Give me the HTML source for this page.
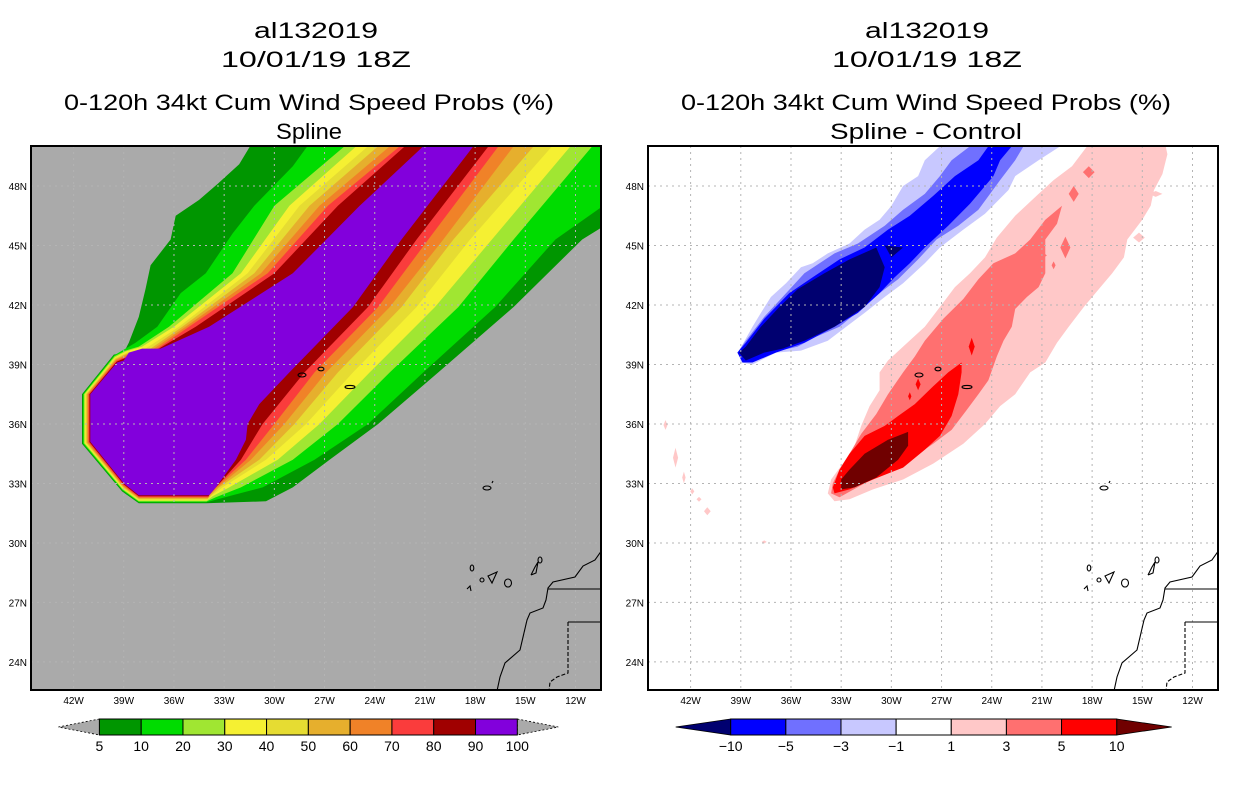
<!DOCTYPE html>
<html><head><meta charset="utf-8">
<style>
html,body{margin:0;padding:0;background:#fff;}
svg{display:block;font-family:"Liberation Sans",sans-serif;}
</style></head>
<body>
<svg id="chart" width="1236" height="800" viewBox="0 0 1236 800" xmlns="http://www.w3.org/2000/svg">
<defs>
<clipPath id="clipL"><rect x="31" y="146" width="570" height="544"/></clipPath>
<clipPath id="clipR"><rect x="648" y="146" width="570" height="544"/></clipPath>
</defs>
<g font-size="22" text-anchor="middle" fill="#000">
<text x="316" y="38" textLength="124" lengthAdjust="spacingAndGlyphs">al132019</text>
<text x="316" y="67" textLength="190" lengthAdjust="spacingAndGlyphs">10/01/19 18Z</text>
<text x="309" y="110" textLength="490" lengthAdjust="spacingAndGlyphs">0-120h 34kt Cum Wind Speed Probs (%)</text>
<text x="309" y="139" textLength="66" lengthAdjust="spacingAndGlyphs">Spline</text>
</g>
<g font-size="22" text-anchor="middle" fill="#000">
<text x="927" y="38" textLength="124" lengthAdjust="spacingAndGlyphs">al132019</text>
<text x="927" y="67" textLength="190" lengthAdjust="spacingAndGlyphs">10/01/19 18Z</text>
<text x="926" y="110" textLength="490" lengthAdjust="spacingAndGlyphs">0-120h 34kt Cum Wind Speed Probs (%)</text>
<text x="926" y="139" textLength="192" lengthAdjust="spacingAndGlyphs">Spline - Control</text>
</g>
<rect x="31" y="146" width="570" height="544" fill="#aaaaaa"/>
<rect x="648" y="146" width="570" height="544" fill="#ffffff"/>
<g id="leftFill" clip-path="url(#clipL)"></g>
<g id="rightFill" clip-path="url(#clipR)"></g>
<g id="overlay"></g>
</svg>
<script>
const NS="http://www.w3.org/2000/svg";
// ---- data ----
const probLevels=[5,10,20,30,40,50,60,70,80,90,100];
const probColors=["#009600","#00dc00","#a0e632","#f5f032","#e6dc32","#e6af2d","#f08228","#fa3c3c","#a00000","#8200dc"];
const diffLevels=[-10,-5,-3,-1,1,3,5,10];
const diffColors=["#000070","#0000ff","#7070ff","#c8c8ff","#ffffff","#ffc8c8","#ff7070","#ff0000","#700000"];
const lonTicks=[42,39,36,33,30,27,24,21,18,15,12];
const latTicks=[48,45,42,39,36,33,30,27,24];
// octagon (outer ring / inner purple)
const octOuter=[[39.6,39.5],[41.5,37.5],[41.5,35.0],[39.1,32.6],[38.1,32.0],[34.1,32.0]];
const octInner=[[39.4,39.1],[41.0,37.5],[41.0,35.1],[39.0,33.0],[38.1,32.4],[33.9,32.4]];
// NW edges (lonW,latN) top -> junction, per level
const nw0=[[31.1,50.5],[32.1,49.1],[33.4,48.1],[34.5,47.3],[35.9,46.5],[36.2,45.3],[37.4,44.0],[37.7,42.8],[38.1,41.4],[38.7,40.1],[39.0,39.6]];
const nw1=[[27.6,50.5],[28.9,49.0],[31.2,47.0],[32.5,45.6],[34.1,43.6],[35.6,42.6],[37.0,40.9],[38.3,40.1],[38.9,39.8]];
const nw2=[[25.8,50.5],[25.8,50.0],[30.0,47.0],[32.5,43.6],[36.3,40.9],[38.1,39.9],[38.9,39.7]];
const nw3=[[25.1,50.5],[25.1,50.0],[29.1,47.0],[32.0,43.6],[36.0,40.9],[37.9,39.9],[38.9,39.65]];
const nw4=[[24.4,50.5],[24.4,50.0],[28.5,47.0],[31.6,43.6],[35.7,40.9],[37.7,39.8],[38.8,39.6]];
const nw5=[[23.8,50.5],[23.8,50.0],[27.9,47.0],[31.2,43.6],[35.5,40.9],[37.4,39.8],[38.8,39.55]];
const nw6=[[23.1,50.5],[23.1,50.0],[27.3,47.0],[30.8,43.6],[35.3,40.9],[37.2,39.8],[38.8,39.5]];
const nw7=[[22.5,50.5],[22.5,50.0],[26.8,47.0],[30.4,43.6],[35.1,40.9],[37.0,39.8],[38.7,39.45]];
const nw8=[[22.2,50.5],[22.2,50.0],[26.2,47.0],[30.0,43.6],[34.7,40.9],[36.9,39.8],[38.7,39.4]];
const nw9=[[21.1,50.5],[21.1,50.0],[24.9,47.0],[28.9,43.6],[33.9,40.9],[36.8,39.8],[37.9,39.8],[38.7,39.6],[39.0,39.2]];
// SE edges bottom -> top
const se0=[[30.5,32.1],[28.9,32.8],[26.7,34.2],[23.8,36.0],[20.2,38.6],[15.7,41.9],[11.6,45.3],[9.5,46.4],[9.5,50.5]];
const se1=[[32.5,32.4],[30.7,32.8],[27.6,34.2],[24.4,36.0],[21.1,38.6],[16.8,41.9],[13.2,45.3],[9.5,47.5],[9.5,50.5]];
const se2=[[33.5,32.3],[32.0,32.8],[28.9,34.2],[26.2,36.0],[23.1,38.6],[19.0,41.9],[15.7,45.3],[12.5,48.5],[10.5,50.5]];
const se3=[[33.7,32.35],[32.7,32.8],[29.8,34.2],[27.3,36.0],[24.3,38.6],[20.4,41.9],[17.0,45.3],[12.3,50.0],[12.3,50.5]];
const se4=[[33.8,32.35],[33.1,32.8],[30.5,34.2],[28.1,36.0],[25.3,38.6],[21.5,41.9],[18.3,45.3],[13.4,50.0],[13.4,50.5]];
const se5=[[33.8,32.4],[33.3,32.8],[30.9,34.2],[28.8,36.0],[26.2,38.6],[22.4,41.9],[19.3,45.3],[14.5,50.0],[14.5,50.5]];
const se6=[[33.9,32.4],[33.4,32.8],[31.4,34.2],[29.4,36.0],[26.9,38.6],[23.1,41.9],[19.9,45.3],[15.7,50.0],[15.7,50.5]];
const se7=[[33.9,32.4],[33.5,32.8],[31.7,34.2],[30.0,36.0],[27.6,38.6],[23.8,41.9],[20.8,45.3],[16.6,50.0],[16.6,50.5]];
const se8=[[33.9,32.4],[33.5,32.8],[32.0,34.2],[30.7,36.0],[28.2,38.6],[24.4,41.9],[21.5,45.3],[17.2,50.0],[17.2,50.5]];
const se9=[[33.9,32.4],[33.5,32.8],[32.3,34.2],[31.7,35.2],[31.6,36.0],[30.9,37.0],[29.1,38.6],[25.3,41.9],[22.4,45.3],[18.1,50.0],[18.1,50.5]];
const nwEdges=[nw0,nw1,nw2,nw3,nw4,nw5,nw6,nw7,nw8,nw9];
const seEdges=[se0,se1,se2,se3,se4,se5,se6,se7,se8,se9];
// right panel difference regions
const blueLight=[[27.1,50.5],[27.1,50.0],[28.0,49.3],[28.4,48.5],[29.3,48.0],[30.0,47.0],[30.7,46.3],[31.6,45.8],[32.5,45.1],[33.8,44.6],[34.7,44.1],[35.4,43.9],[36.3,43.1],[37.2,42.4],[37.8,41.6],[38.3,40.9],[39.1,39.7],[39.0,39.1],[38.3,39.0],[36.9,39.6],[35.4,39.7],[33.8,40.2],[32.7,40.9],[31.6,41.6],[30.4,42.4],[29.3,43.1],[28.0,44.1],[27.1,44.9],[25.7,45.8],[24.4,46.6],[23.0,47.8],[22.6,48.5],[21.2,49.3],[19.9,50.0],[19.9,50.5]];
const blueMid=[[25.3,50.5],[25.3,50.0],[26.4,49.3],[27.1,48.5],[28.0,47.6],[29.3,46.8],[30.4,46.0],[32.0,45.1],[33.4,44.6],[35.2,43.6],[36.5,42.4],[37.6,41.4],[38.7,40.2],[39.2,39.6],[38.7,39.1],[37.2,39.6],[35.6,39.9],[34.5,40.4],[33.1,40.9],[31.8,41.8],[30.7,42.6],[29.6,43.3],[28.4,44.3],[27.3,45.3],[26.0,46.0],[24.8,46.8],[23.5,48.3],[22.6,49.3],[22.1,50.0],[22.1,50.5]];
const blueStrong=[[24.2,50.5],[24.2,50.0],[24.8,49.3],[26.2,48.5],[27.5,47.5],[28.9,46.5],[30.2,45.8],[31.6,44.9],[33.1,44.3],[34.7,43.4],[36.1,42.6],[37.6,41.3],[38.7,40.1],[39.2,39.6],[38.9,39.1],[38.3,39.1],[36.9,39.6],[35.2,40.1],[33.4,40.9],[32.0,41.6],[30.7,42.6],[29.8,43.4],[28.9,44.1],[28.0,44.9],[26.6,46.0],[25.3,47.1],[23.9,48.5],[23.5,49.3],[22.8,50.0],[22.8,50.5]];
const blueDark=[[30.9,44.9],[32.5,44.3],[34.0,43.6],[35.6,42.8],[36.7,41.9],[37.8,40.9],[38.7,39.9],[39.1,39.6],[38.7,39.2],[37.6,39.6],[36.5,39.8],[35.2,40.2],[33.4,40.9],[31.6,41.9],[30.7,42.9],[30.4,43.9]];
const blueDark2=[[30.4,45.0],[29.3,44.9],[30.0,44.4]];
const redLight=[[18.3,50.5],[18.3,50.0],[19.2,49.0],[20.3,48.3],[21.2,47.6],[22.6,46.5],[23.7,45.4],[24.4,44.4],[25.3,43.6],[26.2,42.9],[27.1,41.9],[28.0,40.9],[29.3,39.9],[30.2,39.2],[30.7,38.6],[30.7,37.7],[31.3,36.9],[31.8,35.9],[32.2,34.9],[32.9,34.0],[33.6,33.2],[33.8,32.5],[33.4,32.1],[32.5,32.2],[31.1,32.7],[29.3,33.2],[27.5,34.0],[25.7,35.0],[24.4,36.0],[23.5,36.9],[22.6,37.5],[21.7,38.6],[20.8,39.1],[20.1,40.1],[19.4,40.9],[18.5,41.9],[17.6,42.8],[16.8,43.6],[16.1,44.4],[15.9,45.3],[15.0,46.3],[14.5,47.0],[14.3,47.8],[13.8,48.6],[13.5,49.6],[13.6,50.0],[13.6,50.5]];
const redMid=[[19.8,47.0],[20.8,46.3],[21.7,45.3],[22.6,44.6],[23.9,44.1],[24.8,43.3],[25.7,42.3],[26.9,41.3],[28.0,40.2],[28.6,39.4],[29.3,38.6],[30.2,37.5],[30.9,36.5],[31.8,35.5],[32.5,34.5],[33.1,33.7],[33.5,33.0],[33.6,32.5],[33.1,32.3],[31.6,33.0],[30.4,33.5],[28.9,34.2],[27.5,35.0],[26.4,35.7],[25.5,36.7],[24.8,37.5],[24.2,38.2],[23.7,39.4],[23.3,40.2],[22.8,40.9],[22.6,41.8],[21.9,42.4],[21.2,42.9],[20.8,43.6],[20.8,45.3],[20.1,46.1]];
const redStrong=[[25.8,39.1],[26.6,38.6],[27.5,37.9],[28.6,37.0],[29.6,36.4],[30.4,35.9],[31.6,35.4],[32.5,34.5],[33.1,33.7],[33.5,32.8],[33.4,32.5],[32.5,32.7],[31.1,33.2],[29.3,33.8],[28.0,34.7],[27.1,35.4],[26.4,36.4],[26.0,37.5],[25.8,38.6]];
const redDark=[[29.0,35.6],[30.2,35.2],[31.6,34.5],[32.5,33.7],[33.0,33.2],[33.0,32.7],[32.2,32.8],[30.9,33.3],[29.6,34.2],[29.0,34.9]];
// small isolated patches: [lonW, latN, halfWidthDeg, halfHeightDeg]
const pinkSpots=[[43.5,35.95,0.12,0.25],[42.9,34.3,0.15,0.5],[42.4,33.3,0.1,0.3],[41.9,32.6,0.12,0.15],[41.5,32.2,0.15,0.12],[41.0,31.6,0.2,0.2],[37.6,30.05,0.15,0.08],[15.2,45.4,0.35,0.25],[14.2,47.6,0.4,0.15]];
const midSpots=[[19.1,47.6,0.3,0.4],[18.2,48.7,0.35,0.3],[19.6,44.9,0.3,0.55],[20.3,44.0,0.12,0.2],[20.9,44.5,0.2,0.12],[23.4,40.8,0.35,0.2]];
const redSpots=[[25.2,39.9,0.18,0.45],[28.4,38.0,0.15,0.3],[28.9,37.4,0.1,0.2]];

// ---- axis functions ----
function px(lonW,ox){return ox+73.6+(42-lonW)*16.73;}
function py(lat){return 186+(48-lat)*19.83;}
function ptsStr(arr,ox){return arr.map(p=>px(p[0],ox).toFixed(1)+","+py(p[1]).toFixed(1)).join(" ");}
function mk(tag,attrs,parent){const e=document.createElementNS(NS,tag);for(const k in attrs)e.setAttribute(k,attrs[k]);parent.appendChild(e);return e;}

const L=document.getElementById("leftFill");
for(let i=0;i<10;i++){
  const t=i/9;
  const oct=octOuter.map((p,j)=>[p[0]+(octInner[j][0]-p[0])*t,p[1]+(octInner[j][1]-p[1])*t]);
  const poly=nwEdges[i].concat(oct).concat(seEdges[i]);
  const e=mk("polygon",{points:ptsStr(poly,0),fill:probColors[i]},L);
  
  
}
const R=document.getElementById("rightFill");
const rightRegions=[[blueLight,3,'diff-band-minus1'],[blueMid,2,'diff-band-minus3'],[blueStrong,1,'diff-band-minus5'],[blueDark,0,'diff-band-minus10'],[blueDark2,0,'diff-band-minus10-b'],[redLight,5,'diff-band-plus1'],[redMid,6,'diff-band-plus3'],[redStrong,7,'diff-band-plus5'],[redDark,8,'diff-band-plus10']];
rightRegions.forEach(r=>{
  const e=mk("polygon",{points:ptsStr(r[0],617),fill:diffColors[r[1]]},R);
  
  
});
function spots(list,color,name){list.forEach(s=>{
  const poly=[[s[0],s[1]+s[3]],[s[0]-s[2],s[1]],[s[0],s[1]-s[3]],[s[0]+s[2],s[1]]];
  const e=mk("polygon",{points:ptsStr(poly,617),fill:color},R);
  
  
});}
spots(pinkSpots,diffColors[5],'diff-spot-plus1');
spots(midSpots,diffColors[6],'diff-spot-plus3');
spots(redSpots,diffColors[7],'diff-spot-plus5');

// ---- grid, coast, frames, labels ----
const O=document.getElementById("overlay");
[0,617].forEach((ox,pi)=>{
  const g=mk("g",{"clip-path":pi?"url(#clipR)":"url(#clipL)"},O);
  
  
  lonTicks.forEach(l=>mk("line",{x1:px(l,ox),x2:px(l,ox),y1:146,y2:690,stroke:"#b4b4b4","stroke-width":1,"stroke-dasharray":"2,4"},g));
  latTicks.forEach(l=>mk("line",{x1:ox+31,x2:ox+601,y1:py(l),y2:py(l),stroke:"#b4b4b4","stroke-width":1,"stroke-dasharray":"2,4"},g));
  const c=mk("g",{fill:"none",stroke:"#000","stroke-width":1.1},g);
  
  
  const sh=(a)=>a.map(p=>(p[0]+ox)+","+p[1]).join(" ");
  mk("polyline",{points:sh([[602,550],[595,560],[583,566],[575,577],[553,582],[548,588],[546,600],[543,608],[530,613],[527,620],[520,650],[505,663],[500,677],[497,691]])},c);
  mk("polyline",{points:sh([[548,589],[602,589]])},c);
  mk("polyline",{points:sh([[602,622],[568,622]])},c);
  mk("polyline",{points:sh([[568,622],[568,673],[557,677],[550,682],[549,691]]),"stroke-dasharray":"4,2"},c);
  [[487,488,4,2],[472,568,1.8,3],[482,580,2,2],[508,583,3.5,4],[302,375,4,2],[321,369,3,1.8],[350,387,5,1.6],[540,560,2,3]].forEach(e=>mk("ellipse",{cx:e[0]+ox,cy:e[1],rx:e[2],ry:e[3]},c));
  mk("polygon",{points:sh([[488,576],[497,572],[492,583]])},c);
  mk("polyline",{points:sh([[531,575],[535,567],[538,562],[536,573],[531,575]])},c);
  mk("polyline",{points:sh([[467,589],[470,586],[471,591]])},c);
  mk("polyline",{points:sh([[492,483],[493,481]])},c);
  const f=mk("rect",{x:ox+31,y:146,width:570,height:544,fill:"none",stroke:"#000","stroke-width":2},O);
  
  
  const ax=mk("g",{"font-size":10,fill:"#000"},O);
  
  
  lonTicks.forEach(l=>{const t=mk("text",{x:px(l,ox),y:704,"text-anchor":"middle"},ax);t.textContent=l+"W";});
  latTicks.forEach(l=>{const t=mk("text",{x:ox+27,y:py(l)+4,"text-anchor":"end"},ax);t.textContent=l+"N";});
});

// ---- colorbars ----
function colorbar(x0,x1,levels,colors,name,leftTri,rightTri,triLen){
  const g=mk("g",{},O);
  
  
  const n=levels.length-1, w=(x1-x0)/n, y0=719, y1=735, ym=727;
  const lt=mk("polygon",{points:`${x0},${y0} ${x0-triLen},${ym} ${x0},${y1}`,fill:leftTri,stroke:"#000","stroke-width":0.8,"stroke-dasharray":leftTri==="#aaaaaa"?"2,2":"none"},g);
  const rt=mk("polygon",{points:`${x1},${y0} ${x1+triLen},${ym} ${x1},${y1}`,fill:rightTri,stroke:"#000","stroke-width":0.8,"stroke-dasharray":rightTri==="#aaaaaa"?"2,2":"none"},g);
  for(let i=0;i<n;i++){
    const r=mk("rect",{x:x0+i*w,y:y0,width:w,height:y1-y0,fill:colors[i],stroke:"#000","stroke-width":1},g);
    
    
  }
  levels.forEach((v,i)=>{const t=mk("text",{x:x0+i*w,y:751,"text-anchor":"middle","font-size":14},g);t.textContent=String(v).replace("-","\u2212");});
}
colorbar(99.4,517.3,probLevels,probColors,'left-colorbar',"#aaaaaa","#aaaaaa",41);
colorbar(730.7,1116.7,diffLevels,diffColors.slice(1,8),'right-colorbar',diffColors[0],diffColors[8],55);
</script>
</body></html>
